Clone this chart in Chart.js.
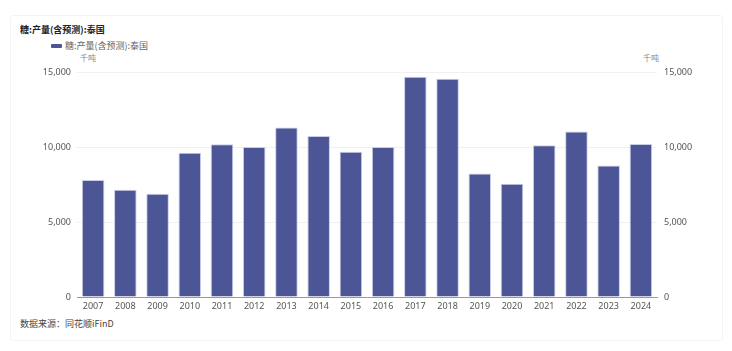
<!DOCTYPE html>
<html><head><meta charset="utf-8">
<script src="https://cdn.jsdelivr.net/npm/chart.js@4/dist/chart.umd.min.js"></script>
<style>
html,body{margin:0;padding:0;background:#fff;width:732px;height:351px;overflow:hidden;font-family:"Noto Sans CJK SC","Noto Sans",sans-serif;}
#card{position:absolute;left:10px;top:15px;width:711px;height:324px;border:1px solid #f4f4f4;border-radius:3px;}
#title{position:absolute;left:20px;top:23px;font-size:9px;font-weight:bold;color:#222;}
#legend{position:absolute;left:51px;top:39px;font-size:9px;color:#666;display:flex;align-items:center;}
#legend span.sw{display:inline-block;width:11px;height:4px;background:#4c5697;border-radius:1px;margin-right:3px;}
.unit{position:absolute;top:52px;font-size:8px;color:#888;}
#src{position:absolute;left:20px;top:317px;font-size:9px;color:#444;}
canvas{position:absolute;left:0;top:0;}
</style></head><body>
<div id="card"></div>
<div id="title">糖:产量(含预测):泰国</div>
<div id="legend"><span class="sw"></span>糖:产量(含预测):泰国</div>
<div class="unit" style="left:80px">千吨</div>
<div class="unit" style="left:643px">千吨</div>
<div id="src">数据来源：同花顺iFinD</div>
<canvas id="c" width="732" height="351"></canvas>
<script>
const categories = ["2007","2008","2009","2010","2011","2012","2013","2014","2015","2016","2017","2018","2019","2020","2021","2022","2023","2024"];
const seriesName = "糖:产量(含预测):泰国";
const values = [7800,7150,6880,9620,10180,10000,11300,10740,9690,10000,14690,14550,8240,7550,10110,11030,8770,10200];
const yTicks = [0,5000,10000,15000];

const fmt = v => v.toLocaleString('en-US');
new Chart(document.getElementById('c'), {
  type: 'bar',
  data: { labels: categories, datasets: [{
    label: seriesName, data: values, yAxisID: 'y',
    backgroundColor: '#4c5697', borderColor: '#c9cde6', borderWidth: 1,
    barPercentage: 0.7, categoryPercentage: 1
  }]},
  options: {
    responsive: false, animation: false,
    layout: { padding: { left: 10, right: 10, top: 72, bottom: 34 } },
    plugins: { legend: { display: false }, tooltip: { enabled: false } },
    scales: {
      x: {
        grid: { display: false, drawTicks: false },
        border: { display: true, color: '#999' },
        ticks: { color: '#555', font: { size: 9, family: 'Noto Sans' }, padding: 4, maxRotation: 0, autoSkip: false },
        afterFit: s => { s.height = 20; }
      },
      y: {
        position: 'left', min: 0, max: 15000,
        afterBuildTicks: s => { s.ticks = yTicks.map(v => ({ value: v })); },
        grid: { color: '#f0f0f0', drawTicks: false },
        border: { display: false },
        ticks: { color: '#555', font: { size: 9, family: 'Noto Sans' }, padding: 6, callback: v => fmt(v) },
        afterFit: s => { s.width = 67; }
      },
      y2: {
        position: 'right', min: 0, max: 15000,
        afterBuildTicks: s => { s.ticks = yTicks.map(v => ({ value: v })); },
        grid: { display: false, drawTicks: false },
        border: { display: false },
        ticks: { color: '#555', font: { size: 9, family: 'Noto Sans' }, padding: 7, callback: v => fmt(v) },
        afterFit: s => { s.width = 65; }
      }
    }
  }
});
</script>
</body></html>
